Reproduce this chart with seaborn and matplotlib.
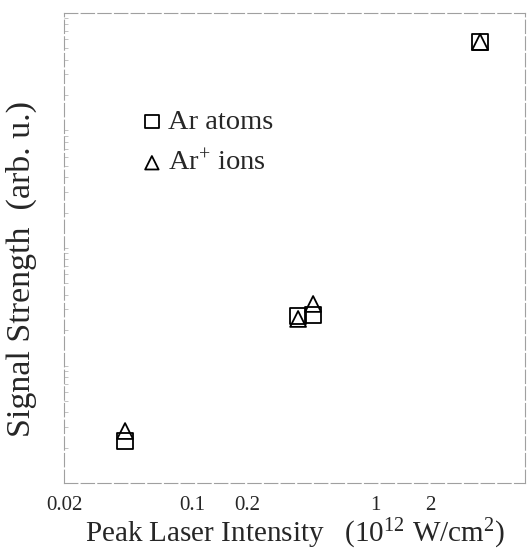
import matplotlib
matplotlib.use('Agg')
import matplotlib.pyplot as plt
import matplotlib.ticker as mticker
import seaborn as sns

##############
### Data. ###
##############
atoms_x = [0.0431, 0.380, 0.459, 3.75]
atoms_y = [2.28, 26.4, 26.9, 5665]
ions_x = [0.0431, 0.380, 0.459, 3.75]
ions_y = [2.77, 24.9, 33.4, 5665]

x_ticks = [0.02, 0.1, 0.2, 1, 2]
x_tick_labels = ['0.02', '0.1', '0.2', '1', '2']

##############
### Style. ###
##############
sns.set_theme(style = 'white')
plt.rcParams['font.family'] = ['Liberation Serif', 'DejaVu Serif']
plt.rcParams['mathtext.fontset'] = 'custom'
plt.rcParams['mathtext.rm'] = 'Liberation Serif'
plt.rcParams['mathtext.it'] = 'Liberation Serif:italic'

fig = plt.figure(figsize = (5.3, 5.5), dpi = 100)
ax = fig.add_axes([0.1208, 0.1218, 0.8698, 0.8546])

# Open markers, black edges.
sns.scatterplot(
    x = atoms_x, y = atoms_y, marker = 's', s = 130,
    facecolor = 'none', edgecolor = 'black', linewidth = 1.3,
    label = 'Ar atoms', ax = ax
)
sns.scatterplot(
    x = ions_x, y = ions_y, marker = '^', s = 130,
    facecolor = 'none', edgecolor = 'black', linewidth = 1.3,
    label = 'Ar$^{+}$ ions', ax = ax
)

ax.set_xscale('log')
ax.set_yscale('log')
ax.set_xlim(0.02, 6.6)
ax.set_ylim(1, 1e4)

ax.xaxis.set_major_locator(mticker.FixedLocator(x_ticks))
ax.xaxis.set_major_formatter(mticker.FixedFormatter(x_tick_labels))
ax.xaxis.set_minor_locator(mticker.NullLocator())
ax.yaxis.set_major_formatter(mticker.NullFormatter())
ax.yaxis.set_minor_formatter(mticker.NullFormatter())

ax.tick_params(axis = 'x', which = 'major', direction = 'in', length = 4,
               width = 0.6, color = '#999999', labelsize = 15, pad = 9)
ax.tick_params(axis = 'y', which = 'both', direction = 'in', length = 3,
               width = 0.5, color = '#aaaaaa', left = True)

# Faint broken frame like the scan.
for side in ['left', 'right', 'top', 'bottom'] :
    ax.spines[side].set_color('#a0a0a0')
    ax.spines[side].set_linewidth(0.8)
    ax.spines[side].set_linestyle((0, (12, 3)))

ax.set_xlabel(r'Peak Laser Intensity   ($10^{12}$ W/cm$^{2}$)', fontsize = 21, labelpad = 2)
ax.set_ylabel('Signal Strength  (arb. u.)', fontsize = 24.5)
ax.yaxis.set_label_coords(-0.058, 0.455)

ax.legend(
    loc = 'upper left', bbox_to_anchor = (0.135, 0.82),
    frameon = False, fontsize = 20.5, handlelength = 1.0, handletextpad = 0.05,
    labelspacing = 0.5, markerscale = 0.85, borderaxespad = 0
)

fig.savefig('out.png', dpi = 100)
